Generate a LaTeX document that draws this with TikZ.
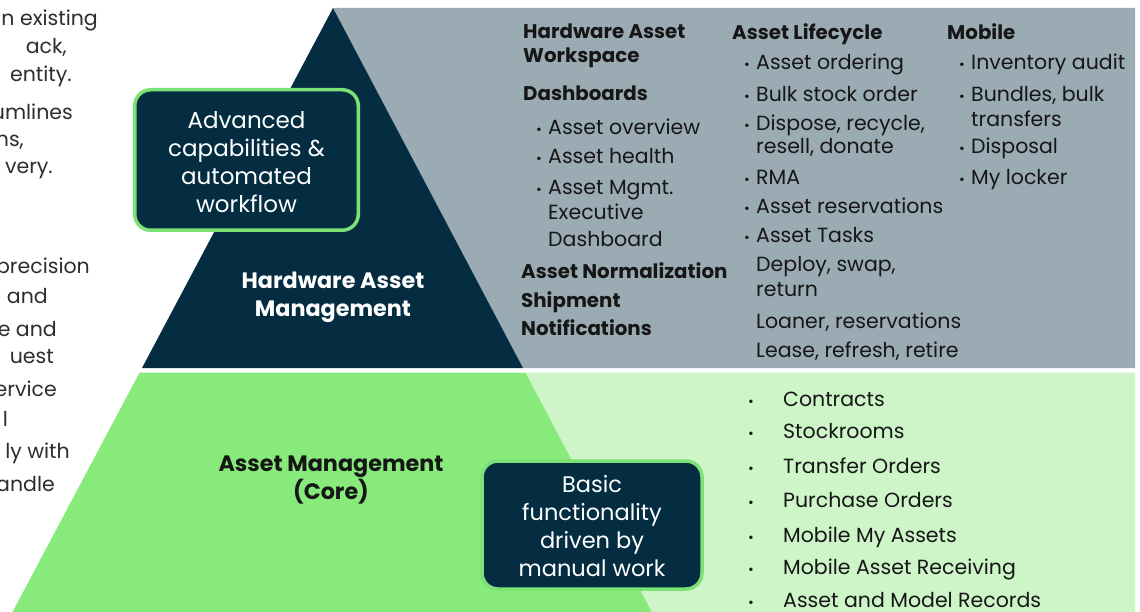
\documentclass[tikz,border=0pt]{standalone}
\usepackage{fontspec}
\setmainfont{Poppins}
\definecolor{navy}{RGB}{4,45,66}
\definecolor{slate}{RGB}{155,171,180}
\definecolor{leaf}{RGB}{135,234,123}
\definecolor{mint}{RGB}{205,245,200}
\definecolor{rim}{RGB}{125,226,118}
\definecolor{ink}{RGB}{22,22,22}
\definecolor{para}{RGB}{45,45,45}
\newcommand\smbul{\makebox[12pt][l]{\fontsize{14}{14}\selectfont\raisebox{0.5pt}{•}}}
\begin{document}
\begin{tikzpicture}[x=1pt,y=-1pt,
  reg/.style={anchor=base west, inner sep=0pt, text=ink, font=\fontsize{20.5}{24}\selectfont},
  hd/.style={anchor=base west, inner sep=0pt, text=ink, font=\fontsize{19.8}{24}\selectfont\bfseries},
  frag/.style={anchor=base east, inner sep=0pt, text=para, font=\fontsize{20.5}{24}\selectfont},
  capbox/.style={draw=rim, line width=3.5pt, fill=navy, rounded corners=16pt},
  captext/.style={text=white, align=center, inner sep=0pt},
  tier/.style={align=center, inner sep=0pt, font=\fontsize{22.3}{28}\selectfont\bfseries}
]
\useasboundingbox (0,0) rectangle (1140,612);
% backgrounds
\fill[slate] (333,8) -- (1135,8) -- (1135,368) -- (523,368) -- cycle;
\fill[navy] (333,8) -- (523,368) -- (142,368) -- cycle;
\fill[mint] (525.4,372.5) -- (1135,372.5) -- (1135,612) -- (651.8,612) -- cycle;
\fill[leaf] (139.6,372.5) -- (525.4,372.5) -- (651.8,612) -- (12.5,612) -- cycle;

% left clipped paragraph fragments
\node[frag] (p1) at (98,26) {n existing};
\node[frag] (p2) at (67,54) {ack,};
\node[frag] (p3) at (72,82) {entity.};
\node[frag] (p4) at (73,120) {umlines};
\node[frag] (p5) at (24,147) {ns,};
\node[frag] (p6) at (53,174) {very.};
\node[frag] (p7) at (90,274) {precision};
\node[frag] (p8) at (48,304) {and};
\node[frag] (p9) at (57,336) {e and};
\node[frag] (p10) at (54,363) {uest};
\node[frag] (p11) at (57,396) {ervice};
\node[frag] (p12) at (8,426) {l};
\node[frag] (p13) at (70,458) {ly with};
\node[frag] (p14) at (55,491) {andle};

% boxes
\node[capbox, minimum width=223.5pt, minimum height=140.5pt] (adv) at (246.5,160) {};
\node[captext, font=\fontsize{23}{28}\selectfont] (advt) at (246.5,162)
  {Advanced\\capabilities \&\\automated\\workflow};
\node[capbox, minimum width=220pt, minimum height=128pt] (basic) at (592,525) {};
\node[captext, font=\fontsize{22.5}{28}\selectfont] (basict) at (592,526.5)
  {Basic\\functionality\\driven by\\manual work};

% tier labels
\node[tier, text=white] (ham) at (333,297) {Hardware Asset\\Management};
\node[tier, text=ink] (amc) at (331,480) {Asset Management\\(Core)};

% column 1
\node[hd] (c1a) at (523,39) {Hardware Asset};
\node[hd] (c1b) at (523,63) {Workspace};
\node[hd] (c1c) at (523,101) {Dashboards};
\node[reg] (c1d) at (536,135) {\smbul Asset overview};
\node[reg] (c1e) at (536,164) {\smbul Asset health};
\node[reg] (c1f) at (536,195) {\smbul Asset Mgmt.};
\node[reg] (c1g) at (548,220) {Executive};
\node[reg] (c1h) at (548,247) {Dashboard};
\node[hd] (c1i) at (521,279) {Asset Normalization};
\node[hd] (c1j) at (521,308) {Shipment};
\node[hd] (c1k) at (521,335) {Notifications};

% column 2
\node[hd] (c2a) at (732,40) {Asset Lifecycle};
\node[reg] (c2b) at (744,70) {\smbul Asset ordering};
\node[reg] (c2c) at (744,102) {\smbul Bulk stock order};
\node[reg] (c2d) at (744,131) {\smbul Dispose, recycle,};
\node[reg] (c2e) at (756,154) {resell, donate};
\node[reg] (c2f) at (744,185) {\smbul RMA};
\node[reg] (c2g) at (744,214) {\smbul Asset reservations};
\node[reg] (c2h) at (744,243) {\smbul Asset Tasks};
\node[reg] (c2i) at (756,272) {Deploy, swap,};
\node[reg] (c2j) at (756,296) {return};
\node[reg] (c2k) at (756,328) {Loaner, reservations};
\node[reg] (c2l) at (756,357) {Lease, refresh, retire};

% column 3
\node[hd] (c3a) at (947,40) {Mobile};
\node[reg] (c3b) at (959,70) {\smbul Inventory audit};
\node[reg] (c3c) at (959,102) {\smbul Bundles, bulk};
\node[reg] (c3d) at (971,127) {transfers};
\node[reg] (c3e) at (959,154) {\smbul Disposal};
\node[reg] (c3f) at (959,185) {\smbul My locker};

% core list
\foreach \t/\y [count=\i] in {Contracts/406, Stockrooms/438, Transfer Orders/473, Purchase Orders/507,
   Mobile My Assets/542, Mobile Asset Receiving/574, Asset and Model Records/607}{
  \node[reg, font=\fontsize{14}{14}\selectfont] (b\i) at (748,\y) {•};
  \node[reg] (l\i) at (783,\y) {\t};
}
\end{tikzpicture}
\end{document}
